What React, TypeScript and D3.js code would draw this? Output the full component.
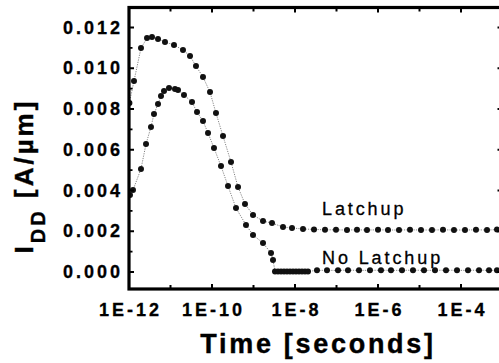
import React from 'react';
import * as d3 from 'd3';

// log10(time) and current (A/um)
const latchLogT = [-11.99, -11.88, -11.711, -11.566, -11.446, -11.301, -11.133, -10.916, -10.699, -10.53, -10.386, -10.217, -10.048, -9.904, -9.735, -9.542, -9.373, -9.205, -9.012, -8.771, -8.554, -8.289, -8.072, -7.807, -7.542, -7.277, -7.012, -6.747, -6.506, -6.265, -6.0, -5.759, -5.494, -5.229, -4.964, -4.699, -4.434, -4.169, -3.904, -3.639, -3.373, -3.133];
const latchI = [0.0083, 0.00937, 0.01099, 0.01148, 0.01153, 0.01144, 0.01129, 0.01114, 0.0109, 0.0106, 0.01011, 0.00957, 0.00883, 0.0078, 0.00667, 0.0054, 0.00417, 0.00334, 0.0028, 0.0025, 0.0024, 0.00221, 0.00216, 0.00211, 0.00209, 0.00207, 0.00207, 0.00206, 0.00207, 0.00206, 0.00207, 0.00206, 0.00206, 0.00207, 0.00206, 0.00206, 0.00207, 0.00206, 0.00206, 0.00207, 0.00206, 0.00208];

const noLatchLogT = [-11.976, -11.904, -11.711, -11.59, -11.47, -11.398, -11.301, -11.229, -11.157, -11.036, -10.892, -10.819, -10.675, -10.482, -10.361, -10.217, -10.096, -9.952, -9.783, -9.614, -9.422, -9.181, -9.012, -8.771, -8.578, -8.53, -8.482, -8.41, -8.337, -8.265, -8.193, -8.12, -8.048, -7.976, -7.904, -7.831, -7.759, -7.687, -7.47, -7.229, -6.964, -6.723, -6.458, -6.193, -5.928, -5.687, -5.422, -5.157, -4.892, -4.627, -4.361, -4.096, -3.831, -3.566, -3.325, -3.133];
const noLatchI = [0.00378, 0.00402, 0.00506, 0.00628, 0.00712, 0.00775, 0.00825, 0.00864, 0.00888, 0.00903, 0.00898, 0.00893, 0.00869, 0.00834, 0.00785, 0.00741, 0.00682, 0.00609, 0.0052, 0.00422, 0.00314, 0.00231, 0.00182, 0.00142, 0.00093, 0.00059, 0.00003, 0.00003, 0.00003, 0.00003, 0.00003, 0.00003, 0.00003, 0.00003, 0.00003, 0.00003, 0.00003, 0.00003, 0.00008, 0.00008, 0.00008, 0.00009, 0.00008, 0.00008, 0.00009, 0.00008, 0.00008, 0.00009, 0.00008, 0.00008, 0.00009, 0.00008, 0.00008, 0.00009, 0.00008, 0.00009];

const yTicks = [0, 0.002, 0.004, 0.006, 0.008, 0.01, 0.012];
const yMinor = [0.001, 0.003, 0.005, 0.007, 0.009, 0.011];
const xTicks = [1e-12, 1e-10, 1e-8, 1e-6, 1e-4];
const xTickLabels = ['1E-12', '1E-10', '1E-8', '1E-6', '1E-4'];
const xMinor = [1e-11, 1e-9, 1e-7, 1e-5, 1e-3];

const W = 499;
const H = 363;
const left = 129, right = 502.5, top = 7.5, bottom = 289;
const font = "'Liberation Sans', Arial, sans-serif";

const App = () => {
  const x = d3.scaleLog().domain([1e-12, 1e-3]).range([left, right]);
  const y = d3.scaleLinear().domain([0, 0.012]).range([272, 27.5]);

  const latch = latchLogT.map((e, i) => ({t: Math.pow(10, e), v: latchI[i]}));
  const noLatch = noLatchLogT.map((e, i) => ({t: Math.pow(10, e), v: noLatchI[i]}));

  const line = d3.line<{t: number, v: number}>().x(d => x(d.t)).y(d => y(d.v));

  const series = [latch, noLatch];

  return (
    <svg width={W} height={H} style={{position: 'absolute', left: 0, top: 0, background: '#fff'}}>
      <defs>
        <clipPath id="plot">
          <rect x={left} y={top} width={right - left} height={bottom - top}/>
        </clipPath>
      </defs>

      {/* data */}
      <g clipPath="url(#plot)">
        {series.map((s, k) => (
          <g key={k}>
            <path d={line(s) || ''} fill="none" stroke="#666" strokeWidth={0.8} strokeDasharray="1.2 1.2"/>
            {s.map((d, i) => (
              <circle key={i} cx={x(d.t)} cy={y(d.v)} r={3} fill="#111"/>
            ))}
          </g>
        ))}
      </g>

      {/* frame */}
      <rect x={left} y={top} width={right - left} height={bottom - top} fill="none" stroke="#000" strokeWidth={3.2}/>

      {/* y ticks, both sides, pointing in */}
      {yTicks.map(t => (
        <g key={'y' + t}>
          <line x1={left} x2={left + 5} y1={y(t)} y2={y(t)} stroke="#000" strokeWidth={2}/>
          <line x1={right} x2={right - 5} y1={y(t)} y2={y(t)} stroke="#000" strokeWidth={2}/>
          <text x={123} y={y(t) + 6} textAnchor="end" fontFamily={font} fontWeight="bold"
                fontSize={18} letterSpacing={3} stroke="#000" strokeWidth={0.3} fill="#000">{t.toFixed(3)}</text>
        </g>
      ))}
      {yMinor.map(t => (
        <g key={'ym' + t}>
          <line x1={left} x2={left + 3.5} y1={y(t)} y2={y(t)} stroke="#000" strokeWidth={1.8}/>
          <line x1={right} x2={right - 3.5} y1={y(t)} y2={y(t)} stroke="#000" strokeWidth={1.8}/>
        </g>
      ))}

      {/* x ticks */}
      {xTicks.map((t, i) => (
        <g key={'x' + i}>
          <line x1={x(t)} x2={x(t)} y1={bottom} y2={bottom - 5} stroke="#000" strokeWidth={2}/>
          <line x1={x(t)} x2={x(t)} y1={top} y2={top + 5} stroke="#000" strokeWidth={2}/>
          <text x={x(t) + 1.5} y={315.5} textAnchor="middle" fontFamily={font} fontWeight="bold"
                fontSize={18} letterSpacing={3} stroke="#000" strokeWidth={0.3} fill="#000">{xTickLabels[i]}</text>
        </g>
      ))}
      {xMinor.map((t, i) => (
        <g key={'xm' + i}>
          <line x1={x(t)} x2={x(t)} y1={bottom} y2={bottom - 4} stroke="#000" strokeWidth={2}/>
          <line x1={x(t)} x2={x(t)} y1={top} y2={top + 4} stroke="#000" strokeWidth={2}/>
        </g>
      ))}

      {/* series labels */}
      <text x={322} y={215} fontFamily={font} fontSize={18} letterSpacing={2.9} stroke="#000" strokeWidth={0.3} fill="#000">Latchup</text>
      <text x={322} y={264} fontFamily={font} fontSize={18} letterSpacing={2.9} stroke="#000" strokeWidth={0.3} fill="#000">No Latchup</text>

      {/* axis titles */}
      <text x={318} y={353} textAnchor="middle" fontFamily={font} fontWeight="bold" fontSize={27}
            letterSpacing={2.7} stroke="#000" strokeWidth={0.4} fill="#000">Time [seconds]</text>
      <text transform="translate(33,176) rotate(-90)" textAnchor="middle" fontFamily={font}
            fontWeight="bold" fontSize={26} letterSpacing={3} stroke="#000" strokeWidth={0.4} fill="#000">
        <tspan>I</tspan>
        <tspan fontSize={20} dy={12}>DD</tspan>
        <tspan dy={-12}> [A/µm]</tspan>
      </text>
    </svg>
  );
};

export default App;
